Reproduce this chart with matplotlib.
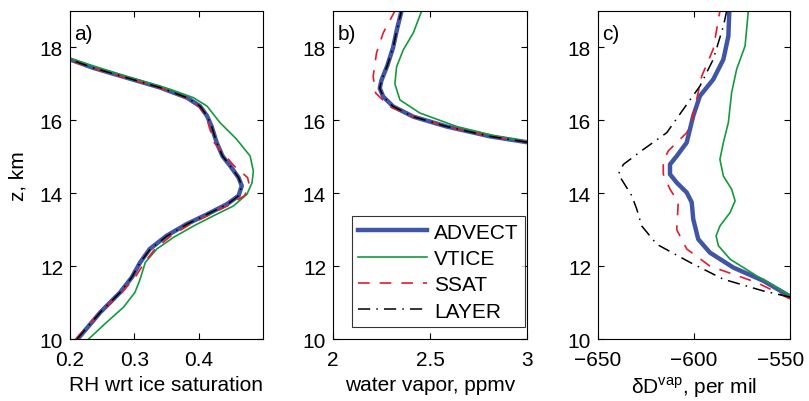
import matplotlib
matplotlib.use("Agg")
import matplotlib.pyplot as plt
import matplotlib.transforms as mtransforms

plt.rcParams['font.family'] = ['Liberation Sans', 'DejaVu Sans']
plt.rcParams['font.size'] = 15
plt.rcParams['mathtext.fontset'] = 'custom'
plt.rcParams['mathtext.rm'] = 'Liberation Sans'

# ---- panel a: RH wrt ice saturation ----
z_a = [10.0, 10.73, 11.28, 11.69, 12.1, 12.47, 12.83, 13.15, 13.42, 13.70, 13.93, 14.2,
       14.43, 14.75, 15.02, 15.39, 15.84, 16.12, 16.39, 16.62, 16.9, 17.17, 17.44, 17.67]
rh_adv = [0.212, 0.247, 0.278, 0.296, 0.309, 0.324, 0.350, 0.381, 0.413, 0.444, 0.462, 0.467,
          0.462, 0.449, 0.437, 0.428, 0.420, 0.413, 0.402, 0.382, 0.340, 0.288, 0.236, 0.200]
rh_ssat = [0.209, 0.247, 0.281, 0.301, 0.316, 0.332, 0.357, 0.387, 0.418, 0.450, 0.471, 0.479,
           0.476, 0.455, 0.442, 0.424, 0.416, 0.412, 0.400, 0.380, 0.338, 0.285, 0.233, 0.197]
rh_layer = [0.211, 0.247, 0.278, 0.296, 0.309, 0.325, 0.351, 0.382, 0.413, 0.445, 0.462, 0.467,
            0.462, 0.449, 0.437, 0.428, 0.420, 0.413, 0.402, 0.382, 0.340, 0.288, 0.236, 0.200]
z_a_vt = [10.0, 10.46, 10.87, 11.28, 11.64, 12.1, 12.47, 12.79, 13.1, 13.38, 13.65, 13.97,
          14.29, 14.61, 15.02, 15.48, 15.94, 16.39, 16.62, 16.85, 17.2, 17.7]
rh_vt = [0.229, 0.257, 0.283, 0.301, 0.309, 0.317, 0.335, 0.361, 0.392, 0.423, 0.454, 0.475,
         0.483, 0.485, 0.480, 0.459, 0.433, 0.413, 0.392, 0.356, 0.288, 0.200]

# ---- panel b: water vapor, ppmv ----
z_b_adv = [15.4, 15.56, 15.83, 16.1, 16.38, 16.65, 16.88, 17.1, 17.5, 18.0, 18.5, 19.0]
wv_adv = [3.0, 2.81, 2.586, 2.414, 2.31, 2.259, 2.241, 2.25, 2.28, 2.31, 2.33, 2.353]
wv_layer = [3.0, 2.81, 2.586, 2.414, 2.31, 2.259, 2.241, 2.25, 2.28, 2.31, 2.33, 2.353]
z_b_ssat = [15.4, 15.56, 15.83, 16.1, 16.38, 16.75, 17.2, 17.84, 18.4, 19.0]
wv_ssat = [3.0, 2.81, 2.586, 2.414, 2.29, 2.22, 2.207, 2.224, 2.259, 2.319]
z_b_vt = [15.42, 15.56, 15.83, 16.2, 16.56, 17.0, 17.47, 17.93, 18.4, 19.0]
wv_vt = [3.0, 2.845, 2.638, 2.448, 2.345, 2.319, 2.328, 2.362, 2.414, 2.457]

# ---- panel c: dD vapor, per mil ----
z_c_adv = [11.17, 11.6, 11.96, 12.37, 12.74, 13.29, 13.75, 14.02, 14.29, 14.52, 14.79, 15.02,
           15.39, 16.12, 16.67, 17.12, 17.67, 18.31, 19.0]
dd_adv = [-550.0, -564.0, -579.5, -591.7, -597.8, -600.4, -601.2, -603.8, -609.0, -612.5, -612.5,
          -609.0, -603.8, -600.4, -596.9, -590.0, -584.7, -582.1, -581.6]
z_c_ssat = [11.1, 11.55, 12.0, 12.47, 13.0, 13.75, 14.11, 14.52, 14.88, 15.16, 15.66, 15.94,
            16.58, 17.21, 17.95, 19.0]
dd_ssat = [-550.0, -567.3, -591.7, -603.8, -609.0, -608.2, -612.5, -616.0, -616.0, -613.4, -603.8,
           -601.2, -598.6, -596.0, -590.0, -586.5]
z_c_layer = [11.15, 11.32, 11.64, 12.1, 12.6, 13.1, 13.56, 13.93, 14.52, 14.79, 15.2, 15.66,
             16.3, 16.94, 17.67, 18.58, 19.0]
dd_layer = [-550.0, -564.0, -584.7, -602.0, -619.4, -627.2, -629.8, -632.4, -639.4, -636.8, -626.4,
            -614.2, -605.6, -596.9, -590.0, -584.7, -583.0]
z_c_vt = [11.2, 11.73, 12.19, 12.56, 12.83, 13.1, 13.47, 13.79, 14.11, 14.47, 14.93, 15.39,
          15.94, 16.76, 17.4, 18.04, 19.0]
dd_vt = [-550.0, -567.3, -581.2, -587.3, -588.5, -586.5, -581.2, -578.6, -580.4, -584.7, -586.5,
         -584.7, -582.1, -580.4, -577.8, -573.4, -571.7]

BLUE = '#4055a5'
GREEN = '#149a3c'
RED = '#e41a2e'

sty_adv = dict(color=BLUE, lw=3.2, solid_joinstyle='round')
sty_vt = dict(color=GREEN, lw=1.2)
sty_ssat = dict(color=RED, lw=1.2, dashes=(7, 6))
sty_layer = dict(color='black', lw=1.1, dashes=(8, 4, 1, 4))

fig = plt.figure(figsize=(8.09, 4.02), dpi=100)
bottom, height = 0.1542, 0.816
ax_a = fig.add_axes([0.0865, bottom, 0.2386, height])
ax_b = fig.add_axes([0.4116, bottom, 0.2398, height])
ax_c = fig.add_axes([0.7392, bottom, 0.2373, height])

ax_a.plot(rh_adv, z_a, label='ADVECT', **sty_adv)
ax_a.plot(rh_vt, z_a_vt, label='VTICE', **sty_vt)
ax_a.plot(rh_ssat, z_a, label='SSAT', **sty_ssat)
ax_a.plot(rh_layer, z_a, label='LAYER', **sty_layer)

ax_b.plot(wv_adv, z_b_adv, label='ADVECT', **sty_adv)
ax_b.plot(wv_vt, z_b_vt, label='VTICE', **sty_vt)
ax_b.plot(wv_ssat, z_b_ssat, label='SSAT', **sty_ssat)
ax_b.plot(wv_layer, z_b_adv, label='LAYER', **sty_layer)

ax_c.plot(dd_adv, z_c_adv, label='ADVECT', **sty_adv)
ax_c.plot(dd_vt, z_c_vt, label='VTICE', **sty_vt)
ax_c.plot(dd_ssat, z_c_ssat, label='SSAT', **sty_ssat)
ax_c.plot(dd_layer, z_c_layer, label='LAYER', **sty_layer)

ax_a.set_xlim(0.2, 0.5)
ax_a.set_xticks([0.2, 0.3, 0.4])
ax_a.set_xticklabels(['0.2', '0.3', '0.4'])
ax_b.set_xlim(2, 3)
ax_b.set_xticks([2, 2.5, 3])
ax_b.set_xticklabels(['2', '2.5', '3'])
ax_c.set_xlim(-650, -550)
ax_c.set_xticks([-650, -600, -550])

for ax, lab in zip([ax_a, ax_b, ax_c], ['a)', 'b)', 'c)']):
    ax.set_ylim(10, 19)
    ax.set_yticks([10, 12, 14, 16, 18])
    ax.tick_params(direction='in', top=True, right=True, length=4, width=0.8)
    ax.tick_params(axis='x', pad=8)
    ax.tick_params(axis='y', pad=5)
    for sp in ax.spines.values():
        sp.set_linewidth(0.8)
    ax.text(0.022, 0.93, lab, transform=ax.transAxes, ha='left', va='center')

ax_a.set_ylabel('z, km', labelpad=9)
ax_a.set_xlabel('RH wrt ice saturation', labelpad=4)
ax_b.set_xlabel('water vapor, ppmv', labelpad=4)
ax_c.set_xlabel(r'δD$^{\rm vap}$, per mil', labelpad=4)

# keep the last tick label of panel c inside the figure
fig.canvas.draw()
shift = mtransforms.ScaledTranslation(-7 / 72, 0, fig.dpi_scale_trans)
last = ax_c.get_xticklabels()[-1]
last.set_transform(last.get_transform() + shift)

leg = ax_b.legend(loc='lower right', bbox_to_anchor=(0.99, 0.037), frameon=True,
                  fancybox=False, edgecolor='black', handlelength=3.3, handletextpad=0.35,
                  labelspacing=0.35, borderpad=0.3, borderaxespad=0)
leg.get_frame().set_linewidth(0.8)

fig.savefig('out.png', dpi=100)
